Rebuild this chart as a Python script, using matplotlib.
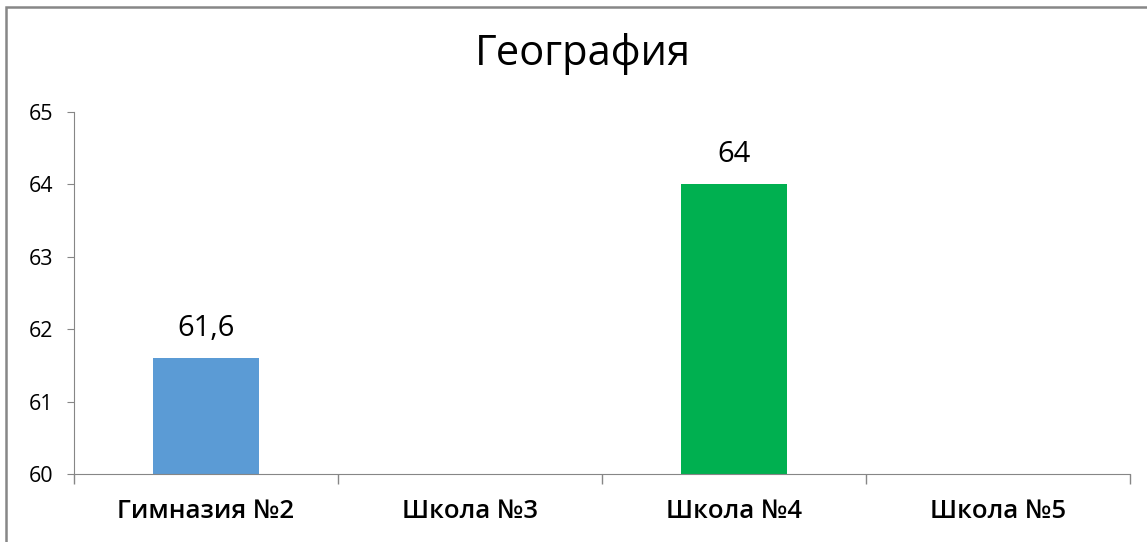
import numpy as np
import matplotlib.pyplot as plt
from matplotlib.patches import Rectangle

schools = ["Гимназия №2", "Школа №3", "Школа №4", "Школа №5"]
scores = [61.6, np.nan, 64, np.nan]
labels = ["61,6", "", "64", ""]
colors = ["#5B9BD5", "#5B9BD5", "#00B050", "#5B9BD5"]

plt.rcParams['font.family'] = ['Open Sans', 'DejaVu Sans']

fig = plt.figure(figsize=(11.47, 5.42), dpi=100)
ax = fig.add_axes([0.0645, 0.1255, 0.9207, 0.6679])

x = np.arange(len(schools))
ax.bar(x, scores, width=0.4, color=colors, bottom=0)
for xi, v, lab in zip(x, scores, labels):
    if not np.isnan(v):
        ax.annotate(lab, (xi, v), xytext=(0, 11), textcoords='offset points',
                    ha='center', va='bottom', fontsize=21)

ax.set_ylim(60, 65)
ax.set_xlim(-0.5, len(schools) - 0.5)
ax.set_yticks(range(60, 66))

ax.set_xticks(x)
ax.set_xticklabels(schools, fontsize=18.5, fontweight='semibold')
ax.tick_params(axis='x', which='major', length=0, pad=18)
ax.set_xticks(np.arange(-0.5, len(schools)), minor=True)
ax.tick_params(axis='x', which='minor', length=7, color='#868686', width=1)
ax.tick_params(axis='y', length=5, color='#868686', labelsize=15.5, pad=10)

for s in ['top', 'right']:
    ax.spines[s].set_visible(False)
for s in ['left', 'bottom']:
    ax.spines[s].set_color('#868686')

fig.text(0.508, 0.9, "География", ha='center', va='center', fontsize=30)

fig.patches.append(Rectangle((0.0055, -0.05), 1.2, 1.038, transform=fig.transFigure,
                             fill=False, edgecolor='#878787', linewidth=1.8))

fig.savefig("out.png", dpi=100)
